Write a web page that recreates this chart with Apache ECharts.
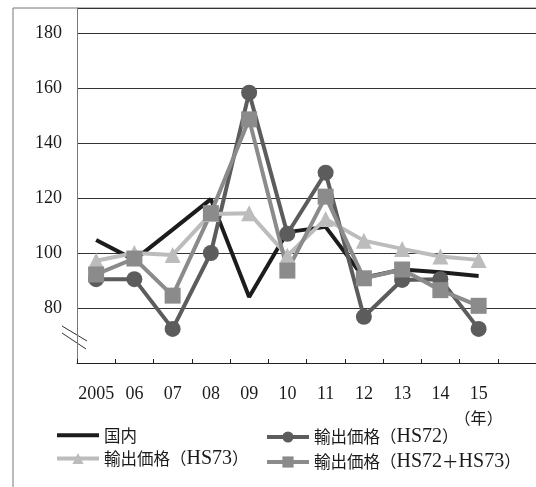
<!DOCTYPE html>
<html>
<head>
<meta charset="utf-8">
<script src="https://cdn.jsdelivr.net/npm/echarts@6/dist/echarts.min.js"></script>
<style>
  html, body { margin: 0; padding: 0; background: #fff; }
  #chart { width: 536px; height: 487px; }
</style>
</head>
<body>
<div id="chart"></div>
<script>
// Years on the horizontal axis (2005 written in full, later years as two digits)
const years = ['2005', '06', '07', '08', '09', '10', '11', '12', '13', '14', '15'];

// Price indices per year
const domestic   = [104.7, 97.5, 108.5, 119.6, 84.0, 107.6, 109.5, 91.0, 94.0, 93.0, 91.6];
const exportHS72 = [90.5, 90.5, 72.4, 100.0, 158.3, 107.0, 129.2, 76.8, 90.2, 90.5, 72.4];
const exportHS73 = [97.2, 100.0, 99.3, 114.2, 114.5, 99.0, 112.4, 104.5, 101.5, 98.7, 97.5];
const exportBoth = [92.2, 98.0, 84.5, 114.5, 148.6, 93.6, 120.5, 90.8, 94.0, 86.5, 80.8];

// Series names as shown in the legend
const names = ['国内', '輸出価格（HS72）', '輸出価格（HS73）', '輸出価格（HS72＋HS73）'];

// Y-axis ticks
const yTicks = [80, 100, 120, 140, 160, 180];
const yMin = 60;
const yMax = 189.1;
const yStep = 20;

const serif = "'Liberation Serif', 'DejaVu Serif', serif";
const cjk = "'Noto Sans CJK JP', 'Noto Sans CJK SC', sans-serif";

const chart = echarts.init(document.getElementById('chart'), null, { renderer: 'canvas' });

// One empty slot after 2015 so the plot runs on past the last year
const axisCats = years.concat(['']);

function lineSeries(name, data, color, symbol, size, width) {
  return {
    name: name,
    type: 'line',
    data: data,
    symbol: symbol,
    symbolSize: size,
    showSymbol: symbol !== 'none',
    lineStyle: { color: color, width: width },
    itemStyle: { color: color },
    emphasis: { disabled: true },
    animation: false
  };
}

// Latin letters and digits in a serif face, Japanese in the CJK face
function mixedText(name) {
  return name.replace(/([A-Za-z0-9]+)|([^A-Za-z0-9]+)/g, function (m, lat, other) {
    return lat ? '{l|' + lat + '}' : '{c|' + other + '}';
  });
}

const legendText = {
  fontSize: 16,
  color: '#1a1a1a',
  rich: {
    c: { fontFamily: cjk, fontSize: 16.5, color: '#1a1a1a' },
    l: { fontFamily: serif, fontSize: 20, color: '#1a1a1a' }
  }
};

function legendBlock(items, left) {
  return {
    data: items,
    orient: 'vertical',
    left: left,
    top: 427,
    padding: 0,
    itemWidth: 42,
    itemHeight: 14,
    itemGap: 5,
    formatter: mixedText,
    textStyle: legendText,
    lineStyle: { width: 4 },
    selectedMode: false
  };
}

const option = {
  backgroundColor: '#ffffff',
  animation: false,
  grid: { left: 77, top: 8, right: -23, bottom: 124, containLabel: false },
  xAxis: {
    type: 'category',
    data: axisCats,
    boundaryGap: true,
    axisLine: { show: true, lineStyle: { color: '#222', width: 1 } },
    axisTick: { show: true, inside: true, length: 4, alignWithLabel: false, lineStyle: { color: '#222', width: 1 } },
    axisLabel: {
      interval: 0,
      margin: 19,
      color: '#1a1a1a',
      fontFamily: serif,
      fontSize: 18,
      lineHeight: 24,
      formatter: function (v) { return v === '15' ? '15\n{c|（年）}' : v; },
      rich: { c: { fontFamily: cjk, fontSize: 16, color: '#1a1a1a', lineHeight: 24 } }
    },
    splitLine: { show: false }
  },
  yAxis: {
    type: 'value',
    min: yMin,
    max: yMax,
    interval: yStep,
    axisLine: { show: true, lineStyle: { color: '#777', width: 1 } },
    axisTick: { show: false },
    axisLabel: {
      margin: 15,
      color: '#1a1a1a',
      fontFamily: serif,
      fontSize: 18,
      formatter: function (v) { return yTicks.indexOf(v) >= 0 ? String(v) : ''; }
    },
    splitLine: { show: true, lineStyle: { color: '#333', width: 1 } }
  },
  legend: [
    legendBlock([{ name: names[0], itemStyle: { opacity: 0 } }, names[2]], 55),
    legendBlock([names[1], names[3]], 265)
  ],
  graphic: [
    // outer frame: left and top edges
    {
      type: 'polyline',
      shape: { points: [[13, 487], [13, 8], [536, 8]] },
      style: { stroke: '#777', lineWidth: 1, fill: null },
      silent: true
    },
    // axis break marks below 80
    {
      type: 'line',
      shape: { x1: 62, y1: 326, x2: 87, y2: 341 },
      style: { stroke: '#333', lineWidth: 1 },
      silent: true
    },
    {
      type: 'line',
      shape: { x1: 62, y1: 333, x2: 86, y2: 349 },
      style: { stroke: '#333', lineWidth: 1 },
      silent: true
    }
  ],
  series: [
    lineSeries(names[0], domestic, '#1c1c1c', 'none', 0, 4),
    lineSeries(names[1], exportHS72, '#5c5c5c', 'circle', 16, 4),
    lineSeries(names[2], exportHS73, '#bcbcbc', 'triangle', 16, 4),
    lineSeries(names[3], exportBoth, '#8b8b8b', 'rect', 16, 4)
  ]
};

chart.setOption(option);
</script>
</body>
</html>
